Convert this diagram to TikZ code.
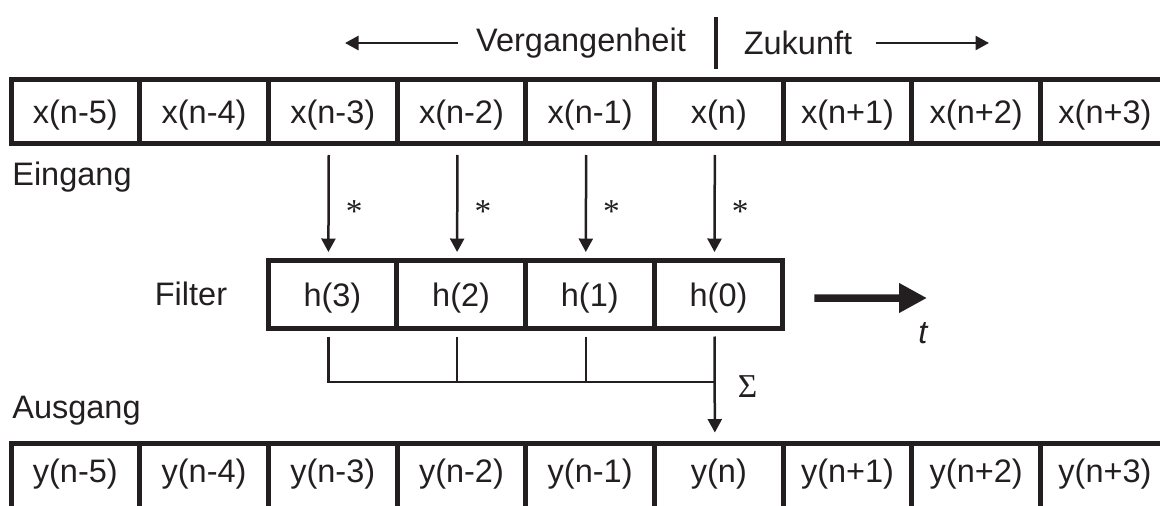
\documentclass[tikz,border=0pt]{standalone}
\usepackage{fontspec}
\setmainfont{Liberation Sans}
\newfontfamily\symfont{Liberation Serif}
\usetikzlibrary{arrows.meta}
\definecolor{ink}{RGB}{35,31,32}
\tikzset{
	txt/.style={inner sep=0pt,text=ink,font=\fontsize{18.5}{21}\selectfont},
	cell/.style={draw=ink,line width=0.1cm,minimum width=2.574cm,minimum height=1.28cm,inner sep=0pt,text height=0.63cm,text depth=0.14cm,text=ink,font=\fontsize{18.5}{21}\selectfont},
	hcell/.style={cell,minimum height=1.36cm},
	ycell/.style={cell,minimum height=1.6cm,text height=0.51cm,text depth=0.55cm},
	feed/.style={draw=ink,line width=0.05cm,-{Triangle[length=0.27cm,width=0.28cm]}},
	wire/.style={draw=ink,line width=0.05cm},
	mult/.style={inner sep=0pt,text=ink,font=\fontsize{19}{21}\symfont,anchor=west,xshift=0.32cm,yshift=-0.17cm},
	sumsign/.style={inner sep=0pt,text=ink,font=\fontsize{19}{21}\symfont,anchor=west,xshift=0.44cm}
}
\begin{document}
\begin{tikzpicture}[line cap=butt,line join=miter,x=0.02cm,y=-0.02cm]
	\useasboundingbox (0,0) rectangle (1160,505);
	\clip (0,0) rectangle (1160,505);
	% past | future
	\node[txt] (past) at (581,43) {Vergangenheit};
	\node[txt] (future) at (798,43) {Zukunft};
	\coordinate (pastend) at (345,43);
	\coordinate (futend) at (989,43);
	\coordinate (nowtop) at (716,17);
	\coordinate (nowbot) at (716,69);
	\draw[feed] ([xshift=-0.36cm]past.west) -- (pastend);
	\draw[feed] ([xshift=0.46cm]future.east) -- (futend);
	\draw[ink,line width=0.07cm] (nowtop) -- (nowbot);
	% input and output sequences
	\foreach \lbl [count=\i from 0] in {n-5,n-4,n-3,n-2,n-1,n,n+1,n+2,n+3}{
		\node[cell] (x\i) at ({75.35+128.7*\i},111.5) {x(\lbl)};
		\node[ycell] (y\i) at ({75.35+128.7*\i},483) {y(\lbl)};
	}
	\node[txt,anchor=base west] (in) at (12,185) {Eingang};
	\node[txt,anchor=base west] (out) at (12,418) {Ausgang};
	% filter coefficients
	\foreach \lbl [count=\j from 0] in {3,2,1,0}
		\node[hcell] (h\lbl) at ({332.4+128.7*\j},294) {h(\lbl)};
	\node[txt] (filter) at (191,294) {Filter};
	% products
	\foreach \i/\k in {2/3,3/2,4/1,5/0}
		\draw[feed] ([xshift=-0.08cm,yshift=-0.18cm]x\i.south) -- node[mult] {*} ([xshift=-0.08cm,yshift=0.11cm]h\k.north);
	% sum
	\coordinate (sum) at (714.4,382);
	\foreach \k in {3,2,1}
		\draw[wire] ([xshift=-0.08cm,yshift=-0.12cm]h\k.south) |- (sum);
	\draw[feed] ([xshift=-0.08cm,yshift=-0.12cm]h0.south) -- node[pos=0.52,sumsign] {Σ} ([xshift=-0.08cm,yshift=0.16cm]y5.north);
	% time axis
	\node[txt,font=\fontsize{18.5}{21}\selectfont\itshape] (t) at (923,333) {t};
	\coordinate (tip) at (927,298);
	\draw[ink,line width=0.15cm,-{Triangle[length=0.56cm,width=0.56cm]}] ([xshift=0.58cm,yshift=-0.08cm]h0.east) -- (tip);
\end{tikzpicture}
\end{document}
